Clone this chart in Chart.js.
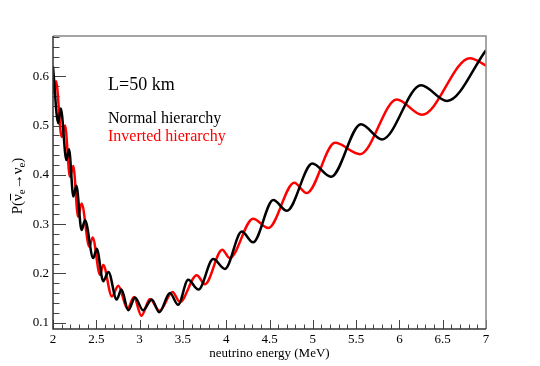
<!DOCTYPE html>
<html>
<head>
<meta charset="utf-8">
<script src="https://cdn.jsdelivr.net/npm/chart.js@4.4.0/dist/chart.umd.min.js"></script>
<style>
  html, body { margin: 0; padding: 0; background: #fff; }
</style>
</head>
<body>
<canvas id="probChart" width="540" height="366"></canvas>
<script>
// Reactor anti-neutrino survival probability at L = 50 km,
// values (extrema of the wiggles mostly).
const energyNormal = [2.00, 2.06, 2.09, 2.155, 2.185, 2.235, 2.27, 2.33, 2.37, 2.465,
  2.505, 2.58, 2.64, 2.735, 2.79, 2.87, 2.947, 3.04, 3.14, 3.227,
  3.35, 3.445, 3.56, 3.68, 3.85, 3.986, 4.18, 4.31, 4.544, 4.70,
  4.995, 5.21, 5.556, 5.80, 6.25, 6.55, 7.00];
const probNormal = [0.620, 0.505, 0.535, 0.430, 0.452, 0.356, 0.378, 0.288, 0.308, 0.231,
  0.250, 0.184, 0.203, 0.147, 0.167, 0.125, 0.151, 0.125, 0.147, 0.121,
  0.160, 0.136, 0.187, 0.167, 0.229, 0.209, 0.285, 0.263, 0.349, 0.327,
  0.423, 0.396, 0.503, 0.472, 0.582, 0.550, 0.653];

const energyInverted = [2.00, 2.035, 2.10, 2.139, 2.196, 2.234, 2.29, 2.33, 2.42, 2.458,
  2.543, 2.58, 2.68, 2.754, 2.86, 2.935, 3.02, 3.12, 3.23, 3.38,
  3.465, 3.66, 3.755, 3.955, 4.04, 4.31, 4.486, 4.786, 4.93, 5.256,
  5.545, 5.97, 6.26, 6.815, 7.00];
const probInverted = [0.565, 0.590, 0.477, 0.500, 0.396, 0.418, 0.315, 0.342, 0.254, 0.273,
  0.197, 0.217, 0.153, 0.175, 0.128, 0.152, 0.114, 0.148, 0.124, 0.162,
  0.142, 0.196, 0.178, 0.248, 0.231, 0.311, 0.292, 0.384, 0.363, 0.465,
  0.442, 0.553, 0.522, 0.637, 0.622];

const xTicks = [2, 2.5, 3, 3.5, 4, 4.5, 5, 5.5, 6, 6.5, 7];
const yTicks = [0.1, 0.2, 0.3, 0.4, 0.5, 0.6];

const serif = 'Liberation Serif';

function toPoints(xs, ys) {
  return xs.map((e, i) => ({ x: e, y: ys[i] }));
}

// ROOT-like frame: ticks pointing inwards, grey box, labels in the pad
const rootFrame = {
  id: 'rootFrame',
  beforeDatasetsDraw(chart) {
    const { ctx, chartArea: a, scales: { x, y } } = chart;
    ctx.save();
    ctx.strokeStyle = '#444';
    ctx.lineWidth = 1;
    for (let i = 0; i <= 50; i++) {
      const px = Math.round(x.getPixelForValue(2 + i * 0.1)) + 0.5;
      const len = i % 5 === 0 ? 9 : 4.5;
      ctx.beginPath();
      ctx.moveTo(px, a.bottom);
      ctx.lineTo(px, a.bottom - len);
      ctx.stroke();
    }
    for (let i = 0; ; i++) {
      const v = 0.1 + i * 0.02;
      if (v > y.max + 1e-9) break;
      const py = Math.round(y.getPixelForValue(v)) + 0.5;
      const len = i % 5 === 0 ? 13 : 6.5;
      ctx.beginPath();
      ctx.moveTo(a.left, py);
      ctx.lineTo(a.left + len, py);
      ctx.stroke();
    }
    ctx.restore();
  },
  afterDraw(chart) {
    const { ctx, chartArea: a } = chart;
    ctx.save();
    ctx.lineWidth = 1.5;
    ctx.strokeStyle = '#888';
    ctx.beginPath();
    ctx.moveTo(a.left, a.top);
    ctx.lineTo(a.right, a.top);
    ctx.lineTo(a.right, a.bottom);
    ctx.stroke();
    ctx.strokeStyle = '#333';
    ctx.beginPath();
    ctx.moveTo(a.left, a.top);
    ctx.lineTo(a.left, a.bottom);
    ctx.lineTo(a.right, a.bottom);
    ctx.stroke();

    // labels inside the pad
    ctx.textBaseline = 'middle';
    ctx.textAlign = 'left';
    ctx.fillStyle = '#000';
    ctx.font = '18px "' + serif + '"';
    ctx.fillText('L=50 km', 108, 85);
    ctx.font = '16px "' + serif + '"';
    ctx.fillText('Normal hierarchy', 108, 119);
    ctx.fillStyle = '#ff0000';
    ctx.fillText('Inverted hierarchy', 108, 137);

    // y title P(anti-nu_e -> nu_e), rotated
    ctx.fillStyle = '#000';
    ctx.translate(17, 186);
    ctx.rotate(-Math.PI / 2);
    ctx.textBaseline = 'alphabetic';
    const big = '15px "' + serif + '"';
    const small = '11px "' + serif + '"';
    const parts = [
      { t: 'P(', f: big, dy: 0 },
      { t: 'ν', f: big, dy: 0, bar: true },
      { t: 'e', f: small, dy: 3 },
      { t: '→', f: big, dy: 0 },
      { t: 'ν', f: big, dy: 0 },
      { t: 'e', f: small, dy: 3 },
      { t: ')', f: big, dy: 0 }
    ];
    let total = 0;
    parts.forEach(p => { ctx.font = p.f; p.w = ctx.measureText(p.t).width; total += p.w; });
    let cx = -total / 2;
    const base = 5;
    parts.forEach(p => {
      ctx.font = p.f;
      ctx.fillText(p.t, cx, base + p.dy);
      if (p.bar) {
        ctx.fillRect(cx + 0.5, base - 12, p.w, 1);
      }
      cx += p.w;
    });
    ctx.restore();
  }
};

document.addEventListener('DOMContentLoaded', function () {
  const ctx = document.getElementById('probChart').getContext('2d');
  new Chart(ctx, {
    type: 'line',
    data: {
      datasets: [
        {
          label: 'Normal hierarchy',
          data: toPoints(energyNormal, probNormal),
          borderColor: '#000000',
          borderWidth: 2.5,
          pointRadius: 0,
          cubicInterpolationMode: 'monotone',
          fill: false
        },
        {
          label: 'Inverted hierarchy',
          data: toPoints(energyInverted, probInverted),
          borderColor: '#ff0000',
          borderWidth: 2.5,
          pointRadius: 0,
          cubicInterpolationMode: 'monotone',
          fill: false
        }
      ]
    },
    options: {
      responsive: false,
      animation: false,
      layout: { padding: { left: 0, top: 36, right: 54, bottom: 0 } },
      scales: {
        x: {
          type: 'linear',
          min: 2,
          max: 7,
          afterFit(s) { s.height = 37; },
          afterBuildTicks(s) { s.ticks = xTicks.map(v => ({ value: v })); },
          grid: { display: false, drawTicks: false },
          border: { display: false },
          ticks: {
            color: '#000',
            padding: 3,
            maxRotation: 0,
            autoSkip: false,
            font: { family: serif, size: 13 },
            callback: v => String(v)
          },
          title: {
            display: true,
            text: 'neutrino energy (MeV)',
            color: '#000',
            font: { family: serif, size: 13 },
            padding: { top: 0, bottom: 5 }
          }
        },
        y: {
          type: 'linear',
          min: 0.087,
          max: 0.682,
          afterFit(s) { s.width = 53; },
          afterBuildTicks(s) { s.ticks = yTicks.map(v => ({ value: v })); },
          grid: { display: false, drawTicks: false },
          border: { display: false },
          ticks: {
            color: '#000',
            padding: 4,
            font: { family: serif, size: 13 },
            callback: v => v.toFixed(1)
          }
        }
      },
      plugins: {
        legend: { display: false },
        tooltip: { enabled: false }
      }
    },
    plugins: [rootFrame]
  });
});
</script>
</body>
</html>
